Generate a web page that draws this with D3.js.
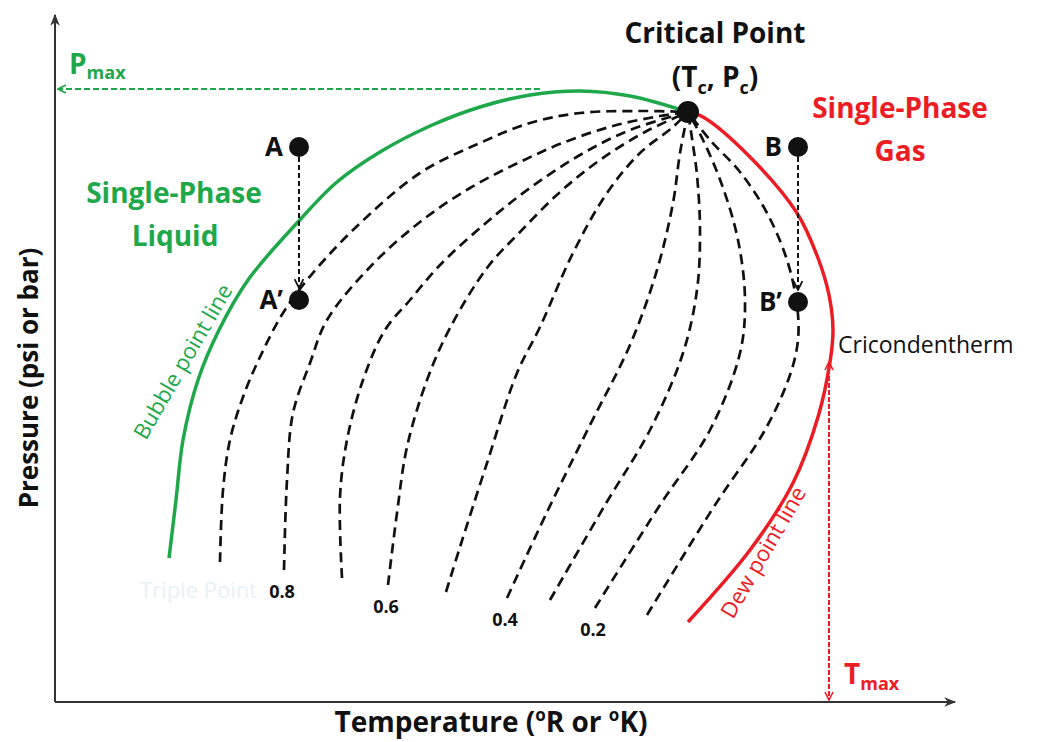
<!DOCTYPE html>
<html>
<head>
<meta charset="utf-8">
<script src="https://cdn.jsdelivr.net/npm/d3@7"></script>
<style>
  html, body { margin: 0; padding: 0; background: #fff; }
  svg { display: block; }
  text { font-family: "Open Sans", Lato, sans-serif; }
</style>
</head>
<body>
<div id="chart"></div>
<script>
/* ============================================================
   Phase envelope (P–T diagram)
   Units are arbitrary: T and P in "diagram units"
   ============================================================ */

const COLORS = {
  green : '#1ea84a',
  red   : '#ec1c24',
  black : '#111111',
  axis  : '#333333'
};

// Critical point (Tc, Pc)
const criticalPoint = [633, 590];

// Bubble point line (green) — bottom to critical point
const bubbleLine = [
  [114, 144], [121, 202], [128, 262], [143, 322], [164, 372], [193, 422],
  [242, 479], [282, 520], [325, 550], [375, 576], [425, 595], [475, 607],
  [525, 611], [575, 606], [633, 590]
];

// Dew point line (red) — critical point to bottom
const dewLine = [
  [633, 590], [648, 585], [695, 545], [742, 489], [763, 444], [774, 407],
  [778, 372], [775, 340], [763, 285], [738, 219], [695, 152], [633, 80]
];

// Quality lines (liquid fraction), bottom to critical point
const qualityValues = [0.9, 0.8, 0.7, 0.6, 0.5, 0.4, 0.3, 0.2, 0.1];
const qualityLabels = ['', '0.8', '', '0.6', '', '0.4', '', '0.2', ''];
const qualityLines = [
  [[165,140],[168,212],[175,262],[188,305],[205,345],[228,389],[252,422],[298,472],[365,529],[425,559],[475,579],[525,589],[585,591],[633,590]],
  [[229,132],[232,222],[238,289],[255,339],[272,382],[315,435],[365,480],[415,514],[465,540],[510,560],[558,576],[605,586],[633,590]],
  [[287,124],[285,205],[292,262],[308,322],[330,372],[355,402],[385,437],[432,480],[475,514],[525,547],[575,572],[633,590]],
  [[333,117],[342,189],[352,255],[372,322],[395,374],[432,434],[465,470],[505,510],[545,542],[590,570],[633,590]],
  [[391,110],[405,155],[432,239],[462,329],[485,375],[518,449],[552,509],[585,549],[618,575],[633,590]],
  [[452,104],[493,192],[535,277],[575,357],[602,432],[618,499],[625,549],[633,590]],
  [[495,102],[550,197],[595,272],[628,349],[642,412],[645,472],[642,527],[638,557],[633,590]],
  [[540,94],[605,197],[655,272],[685,349],[690,402],[683,462],[667,517],[648,562],[633,590]],
  [[592,87],[660,197],[710,272],[735,327],[743,362],[742,397],[732,442],[712,489],[685,530],[655,562],[633,590]]
];

// Example process points: A -> A' (liquid side), B -> B' (gas side)
const pointNames  = ['A', 'A\u2019', 'B', 'B\u2019'];
const pointValues = [[244, 555], [244, 402], [743, 555], [743, 400]];

// Cricondenbar / cricondentherm
const pMax = 613;              // pressure of the Pmax arrow
const pMaxFromT = 485;         // where the Pmax arrow starts
const tMax = 774;              // temperature of the Tmax arrow
const tMaxFromP = 340;         // where the Tmax arrow starts


/* ============================================================
   SVG + scales
   ============================================================ */
const W = 1038, H = 742;

const svg = d3.select('#chart')
  .append('svg')
    .attr('width', W)
    .attr('height', H);

const x = d3.scaleLinear().domain([0, 900]).range([55, 955]);
const y = d3.scaleLinear().domain([0, 687]).range([702, 15]);

const line = d3.line()
  .x(d => x(d[0]))
  .y(d => y(d[1]))
  .curve(d3.curveCatmullRom.alpha(0.5));

// Arrow markers
const defs = svg.append('defs');

function chevron(id, color, size) {
  defs.append('marker')
    .attr('id', id)
    .attr('viewBox', '0 0 10 10')
    .attr('refX', 9).attr('refY', 5)
    .attr('markerUnits', 'userSpaceOnUse')
    .attr('markerWidth', size).attr('markerHeight', size)
    .attr('orient', 'auto-start-reverse')
    .append('path')
      .attr('d', 'M1,1 L9,5 L1,9')
      .attr('fill', 'none')
      .attr('stroke', color)
      .attr('stroke-width', 1.6);
}
chevron('arrow-green', COLORS.green, 10);
chevron('arrow-red', COLORS.red, 10);
chevron('arrow-black', COLORS.black, 11);

defs.append('marker')
  .attr('id', 'arrow-axis')
  .attr('viewBox', '0 0 10 10')
  .attr('refX', 9).attr('refY', 5)
  .attr('markerUnits', 'userSpaceOnUse')
  .attr('markerWidth', 14).attr('markerHeight', 12)
  .attr('orient', 'auto')
  .append('path')
    .attr('d', 'M0,1 L10,5 L0,9 L3,5 Z')
    .attr('fill', COLORS.axis);


/* ============================================================
   Axes (plain arrows, no ticks)
   ============================================================ */
svg.append('line')
  .attr('x1', x(0)).attr('y1', y(0))
  .attr('x2', x(0)).attr('y2', y(687))
  .attr('stroke', COLORS.axis).attr('stroke-width', 2)
  .attr('marker-end', 'url(#arrow-axis)');

svg.append('line')
  .attr('x1', x(0)).attr('y1', y(0))
  .attr('x2', x(900)).attr('y2', y(0))
  .attr('stroke', COLORS.axis).attr('stroke-width', 2)
  .attr('marker-end', 'url(#arrow-axis)');

svg.append('text')
  .attr('transform', `translate(38,${378}) rotate(-90)`)
  .attr('text-anchor', 'middle')
  .style('font-size', '26px')
  .style('font-weight', 700)
  .attr('fill', COLORS.black)
  .text('Pressure (psi or bar)');

const xTitle = svg.append('text')
  .attr('x', 491).attr('y', 732)
  .attr('text-anchor', 'middle')
  .style('font-size', '28px')
  .style('font-weight', 700)
  .attr('fill', COLORS.black);
xTitle.append('tspan').text('Temperature (');
xTitle.append('tspan').attr('dy', -11).style('font-size', '17px').text('o');
xTitle.append('tspan').attr('dy', 11).text('R or ');
xTitle.append('tspan').attr('dy', -11).style('font-size', '17px').text('o');
xTitle.append('tspan').attr('dy', 11).text('K)');


/* ============================================================
   Quality lines
   ============================================================ */
svg.append('g')
  .selectAll('path')
  .data(qualityLines)
  .join('path')
    .attr('d', line)
    .attr('fill', 'none')
    .attr('stroke', COLORS.black)
    .attr('stroke-width', 2.7)
    .attr('stroke-dasharray', '10,6');

svg.append('g')
  .selectAll('text')
  .data(qualityLines.map((pts, i) => ({p: pts[0], label: qualityLabels[i]})).filter(d => d.label))
  .join('text')
    .attr('x', d => x(d.p[0]) - 2)
    .attr('y', d => y(d.p[1]) + 28)
    .attr('text-anchor', 'middle')
    .style('font-size', '18px')
    .style('font-weight', 700)
    .attr('fill', COLORS.black)
    .text(d => d.label);

// faint ghost text under the bubble line
svg.append('text')
  .attr('x', 140).attr('y', 598)
  .style('font-size', '22px')
  .attr('fill', '#e8f1f5')
  .text('Triple Point');


/* ============================================================
   Bubble and dew lines
   ============================================================ */
svg.append('path')
  .datum(bubbleLine)
  .attr('d', line)
  .attr('fill', 'none')
  .attr('stroke', COLORS.green)
  .attr('stroke-width', 3.5);

svg.append('path')
  .datum(dewLine)
  .attr('d', line)
  .attr('fill', 'none')
  .attr('stroke', COLORS.red)
  .attr('stroke-width', 3.5);

// Pmax arrow
svg.append('line')
  .attr('x1', x(pMaxFromT)).attr('y1', y(pMax))
  .attr('x2', x(3)).attr('y2', y(pMax))
  .attr('stroke', COLORS.green).attr('stroke-width', 2)
  .attr('stroke-dasharray', '6,3')
  .attr('marker-end', 'url(#arrow-green)');

// Tmax arrow (both ends)
svg.append('line')
  .attr('x1', x(tMax)).attr('y1', y(tMaxFromP))
  .attr('x2', x(tMax)).attr('y2', y(2))
  .attr('stroke', COLORS.red).attr('stroke-width', 2)
  .attr('stroke-dasharray', '5,2')
  .attr('marker-start', 'url(#arrow-red)')
  .attr('marker-end', 'url(#arrow-red)');

// A -> A', B -> B'
[[0, 1], [2, 3]].forEach(([a, b]) => {
  svg.append('line')
    .attr('x1', x(pointValues[a][0])).attr('y1', y(pointValues[a][1]) + 10)
    .attr('x2', x(pointValues[b][0])).attr('y2', y(pointValues[b][1]) - 12)
    .attr('stroke', COLORS.black).attr('stroke-width', 2)
    .attr('stroke-dasharray', '5,3')
    .attr('marker-end', 'url(#arrow-black)');
});

svg.append('g')
  .selectAll('circle')
  .data(pointValues)
  .join('circle')
    .attr('cx', d => x(d[0]))
    .attr('cy', d => y(d[1]))
    .attr('r', 10)
    .attr('fill', COLORS.black);

svg.append('g')
  .selectAll('text')
  .data(pointValues)
  .join('text')
    .attr('x', d => x(d[0]) - 16)
    .attr('y', d => y(d[1]) + 9)
    .attr('text-anchor', 'end')
    .style('font-size', '26px')
    .style('font-weight', 700)
    .attr('fill', COLORS.black)
    .text((d, i) => pointNames[i]);

// Critical point
svg.append('circle')
  .attr('cx', x(criticalPoint[0]))
  .attr('cy', y(criticalPoint[1]))
  .attr('r', 11)
  .attr('fill', COLORS.black);


/* ============================================================
   Annotations
   ============================================================ */
function bold(xp, yp, txt, color, size, anchor) {
  return svg.append('text')
    .attr('x', xp).attr('y', yp)
    .attr('text-anchor', anchor || 'middle')
    .style('font-size', size + 'px')
    .style('font-weight', 700)
    .attr('fill', color)
    .text(txt);
}

bold(715, 43, 'Critical Point', COLORS.black, 28);

const tc = svg.append('text')
  .attr('x', 715).attr('y', 87)
  .attr('text-anchor', 'middle')
  .style('font-size', '28px')
  .style('font-weight', 700)
  .attr('fill', COLORS.black);
tc.append('tspan').text('(T');
tc.append('tspan').attr('dy', 7).style('font-size', '18px').text('c');
tc.append('tspan').attr('dy', -7).text(', P');
tc.append('tspan').attr('dy', 7).style('font-size', '18px').text('c');
tc.append('tspan').attr('dy', -7).text(')');

bold(174, 203, 'Single-Phase', COLORS.green, 28);
bold(175, 246, 'Liquid', COLORS.green, 28);
bold(900, 118, 'Single-Phase', COLORS.red, 28);
bold(900, 161, 'Gas', COLORS.red, 28);

const pm = svg.append('text')
  .attr('x', 69).attr('y', 74)
  .style('font-weight', 700)
  .attr('fill', COLORS.green);
pm.append('tspan').style('font-size', '28px').text('P');
pm.append('tspan').attr('dy', 5).style('font-size', '18px').text('max');

const tm = svg.append('text')
  .attr('x', 844).attr('y', 684)
  .style('font-weight', 700)
  .attr('fill', COLORS.red);
tm.append('tspan').style('font-size', '28px').text('T');
tm.append('tspan').attr('dy', 6).style('font-size', '18px').text('max');

svg.append('text')
  .attr('x', 838).attr('y', 353)
  .style('font-size', '23px')
  .attr('fill', COLORS.black)
  .text('Cricondentherm');

svg.append('text')
  .attr('transform', 'translate(146,441) rotate(-60)')
  .style('font-size', '22px')
  .attr('fill', COLORS.green)
  .text('Bubble point line');

svg.append('text')
  .attr('transform', 'translate(733,620) rotate(-60)')
  .style('font-size', '22px')
  .attr('fill', COLORS.red)
  .text('Dew point line');
</script>
</body>
</html>
